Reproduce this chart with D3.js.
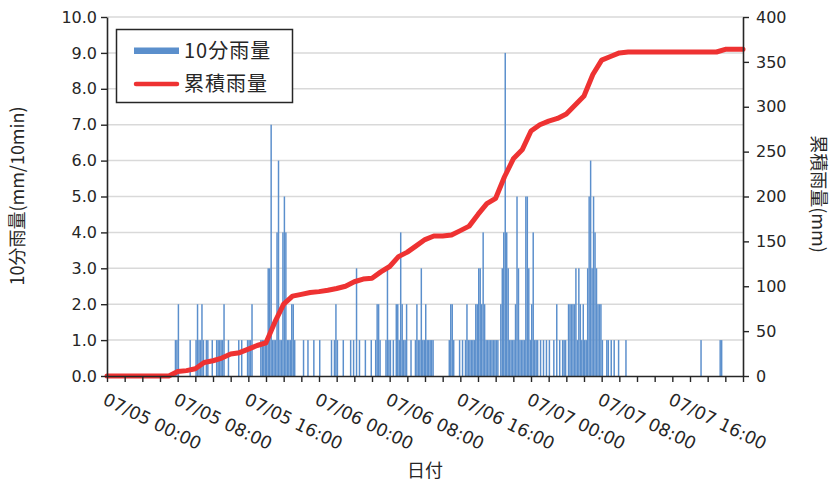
<!DOCTYPE html>
<html><head><meta charset="utf-8">
<script src="https://cdn.jsdelivr.net/npm/d3@7/dist/d3.min.js"></script>
<style>body{margin:0;background:#fff}svg{display:block}</style>
</head><body><svg id="c" width="834" height="487"></svg>
<script>
// 10-minute rainfall (mm), one row per hour, 6 values per row, 07/05 00:00 - 07/07 24:00
const rain10 = [
0,0,0,0,0,0, 0,0,0,0,0,0, 0,0,0,0,0,0, 0,0,0,0,0,0, 0,0,0,0,0,0, 0,0,0,0,0,0, 0,0,0,0,0,0,
0,0,0,0,1,1, 2,0,0,0,0,0, 0,0,1,0,0,0, 1,2,1,1,2,1, 0,1,1,0,0,1, 0,0,1,1,1,1, 1,2,0,0,1,0,
0,0,0,0,0,1, 0,1,0,0,0,1, 1,1,2,0,0,0, 0,0,1,1,1,1, 1,3,3,7,1,1, 1,4,6,1,1,4, 5,4,1,1,1,2,
2,1,0,0,0,0, 0,1,0,0,1,0, 0,0,1,0,0,0, 1,0,0,0,0,0, 0,0,1,0,1,2, 1,0,0,0,1,0, 0,0,0,1,0,1,
0,3,0,1,0,0, 0,1,0,0,0,1, 0,0,1,2,2,1, 0,0,0,1,3,1, 1,0,1,0,2,2, 1,4,2,1,1,2, 0,0,1,0,0,1,
2,1,1,3,1,1, 2,1,1,1,1,1, 0,0,0,0,0,0, 0,0,0,0,1,2, 2,1,0,0,0,1, 0,1,0,1,2,1, 1,1,1,1,2,2,
3,3,2,4,2,1, 1,1,1,1,1,1, 1,1,0,2,3,4, 9,4,3,1,1,1, 1,2,5,3,1,1, 1,1,5,5,3,1, 2,4,1,1,1,0,
1,0,1,0,1,0, 1,0,0,1,0,2, 0,1,0,1,1,1, 0,2,2,2,2,2, 3,1,3,2,1,2, 1,1,3,5,6,3, 5,4,3,2,2,2,
1,0,0,1,1,0, 1,0,1,0,0,1, 0,0,0,0,1,0, 0,0,0,0,0,0, 0,0,0,0,0,0, 0,0,0,0,0,0, 0,0,0,0,0,0,
0,0,0,0,0,0, 0,0,0,0,0,0, 0,0,0,0,0,0, 0,0,0,0,0,0, 0,1,0,0,0,0, 0,0,0,0,0,0, 0,0,1,1,0,0,
0,0,0,0,0,0, 0,0,0,0,0,0
];
// cumulative rainfall (mm) at each hour, 07/05 00:00 ... 07/08 00:00
const cumulative = [
0,0,0,0,0,0,0,0,5,6,8,15,17,20,24.5,26,30,34,37,60,80,89,91,93,
94,95.5,97.5,100,105,108,109,116,122,133,138,145,152,156,156,157,162,167,180,192,198,222,242,252,
273,280,284,287,292,302,312,336,352,356,360,361,361,361,361,361,361,361,361,361,361,361,364,364,364
];
const xLabels = ["07/05 00:00","07/05 08:00","07/05 16:00","07/06 00:00","07/06 08:00","07/06 16:00","07/07 00:00","07/07 08:00","07/07 16:00"];
const leftTicks = [0,1,2,3,4,5,6,7,8,9,10];
const rightTicks = [0,50,100,150,200,250,300,350,400];
const seriesNames = ["10分雨量","累積雨量"];
const axisTitles = {left:"10分雨量(mm/10min)", right:"累積雨量(mm)", bottom:"日付"};

const BLUE = "#5b8fcc", RED = "#ee3232", INK = "#262626";
const NUM = "'DejaVu Sans', Verdana, sans-serif";
const CJK = "'Noto Sans CJK JP', sans-serif";

const svg = d3.select("#c");
const nSlots = rain10.length;
const x = d3.scaleLinear().domain([0, nSlots]).range([107, 743]);
const xh = d3.scaleLinear().domain([0, nSlots/6]).range([107, 743]);
const yL = d3.scaleLinear().domain([0, 10]).range([376, 17]);
const yR = d3.scaleLinear().domain([0, 400]).range([376, 17]);

// gridlines
svg.append("g").selectAll("line").data(leftTicks.slice(1)).join("line")
  .attr("x1", 107).attr("x2", 743).attr("y1", d => yL(d)).attr("y2", d => yL(d))
  .attr("stroke", "#d9d9d9").attr("stroke-width", 1.5);

// bars
svg.append("g").selectAll("rect").data(rain10.map((v,i)=>({v,i})).filter(d=>d.v>0)).join("rect")
  .attr("x", d => x(d.i)).attr("width", d => x(d.i+1)-x(d.i))
  .attr("y", d => yL(d.v)).attr("height", d => yL(0)-yL(d.v))
  .attr("fill", BLUE);

// cumulative line
svg.append("path").datum(cumulative)
  .attr("d", d3.line().x((d,i)=>xh(i)).y(d=>yR(d)))
  .attr("fill","none").attr("stroke",RED).attr("stroke-width",5)
  .attr("stroke-linejoin","round").attr("stroke-linecap","round");

// axes
function styleAxis(g){
  g.selectAll(".domain").attr("stroke", INK).attr("stroke-width", 1.6);
  g.selectAll(".tick line").attr("stroke", INK).attr("stroke-width", 1.4);
  g.selectAll("text").attr("fill", INK).attr("font-family", NUM).attr("font-size", 16);
}
svg.append("g").attr("transform","translate(107,0)")
  .call(d3.axisLeft(yL).tickValues(leftTicks).tickFormat(d3.format(".1f")).tickSize(6).tickSizeOuter(0).tickPadding(4))
  .call(styleAxis);
svg.append("g").attr("transform","translate(743,0)")
  .call(d3.axisRight(yR).tickValues(rightTicks).tickSize(6).tickSizeOuter(0).tickPadding(7))
  .call(styleAxis);
svg.append("g").attr("transform","translate(0,376)")
  .call(d3.axisBottom(x).tickValues(d3.range(0, nSlots+1, 12)).tickFormat("").tickSize(6).tickSizeOuter(0))
  .call(styleAxis);

// x labels rotated
svg.append("g").selectAll("text").data(xLabels).join("text")
  .attr("transform", (d,i) => `translate(${x(i*48)+1},391) rotate(26)`)
  .attr("dy", "0.8em")
  .attr("font-family", NUM).attr("font-size", 17.5).attr("fill", INK)
  .text(d => d);

// axis titles
svg.append("text").attr("transform","translate(24,196) rotate(-90)")
  .attr("text-anchor","middle").attr("font-family", CJK).attr("font-size",18).attr("fill",INK)
  .text(axisTitles.left);
svg.append("text").attr("transform","translate(812,194) rotate(90)")
  .attr("text-anchor","middle").attr("font-family", CJK).attr("font-size",18).attr("fill",INK)
  .text(axisTitles.right);
svg.append("text").attr("x",425).attr("y",477)
  .attr("text-anchor","middle").attr("font-family", CJK).attr("font-size",18).attr("fill",INK)
  .text(axisTitles.bottom);

// legend
const lg = svg.append("g");
lg.append("rect").attr("x",116.5).attr("y",29.5).attr("width",176).attr("height",73)
  .attr("fill","#fff").attr("stroke",INK).attr("stroke-width",1.5);
lg.append("rect").attr("x",134).attr("y",47.5).attr("width",45).attr("height",6.5).attr("fill",BLUE);
lg.append("line").attr("x1",136).attr("x2",177).attr("y1",84).attr("y2",84)
  .attr("stroke",RED).attr("stroke-width",4.5).attr("stroke-linecap","round");
lg.selectAll("text.l").data(seriesNames).join("text")
  .attr("x",184).attr("y",(d,i)=> i===0 ? 51 : 84).attr("dy","0.35em")
  .attr("font-family", CJK).attr("font-size",20).attr("letter-spacing",1).attr("fill",INK)
  .text(d=>d);
</script>
</body></html>
